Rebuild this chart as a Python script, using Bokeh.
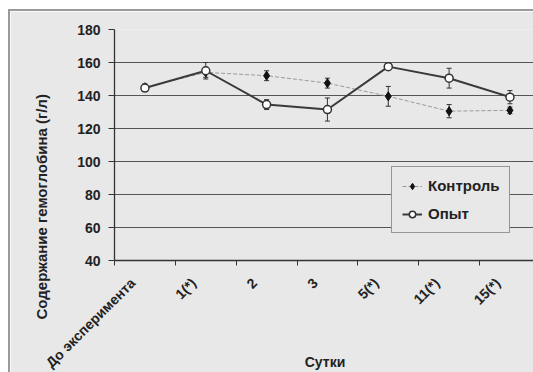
import math
from bokeh.plotting import figure
from bokeh.models import FixedTicker, Whisker, ColumnDataSource, Legend, LegendItem, TeeHead, Title
from bokeh.embed import file_html
from bokeh.resources import INLINE

categories = ["До эксперимента", "1(*)", "2", "3", "5(*)", "11(*)", "15(*)"]
control = [145, 154, 152, 147.5, 139.5, 130.5, 131]
control_err = [2, 3, 3, 3, 6, 4, 2]
experiment = [144.5, 155, 134.5, 131.5, 157.5, 150.5, 139]
experiment_err = [2, 5, 3, 7, 1, 6, 4]

xs = list(range(len(categories)))
FONT = "Liberation Sans"
BG = "#e8e8e8"
DARK = "#333333"
LABEL_SHIFT = 0.2  # rotated labels end slightly left of category centre

p = figure(width=525, height=363, x_range=(-0.5, 6.42), y_range=(40, 180),
           output_backend="svg", toolbar_location=None,
           min_border_left=101, min_border_right=0, min_border_top=18, min_border_bottom=114)
p.background_fill_color = BG
p.border_fill_color = BG
p.outline_line_color = None
p.styles = {"margin-left": "8px", "margin-top": "9px",
            "border-left": "2px solid #9a9a9a", "border-top": "2px solid #9a9a9a"}

label_ticks = [i - LABEL_SHIFT for i in xs]
p.xaxis.ticker = FixedTicker(ticks=label_ticks, minor_ticks=[i - 0.5 for i in range(len(categories) + 1)])
p.xaxis.major_label_overrides = {t: c for t, c in zip(label_ticks, categories)}
p.xaxis.major_label_orientation = math.pi / 4
p.xaxis.major_tick_out = 0
p.xaxis.major_tick_in = 0
p.xaxis.minor_tick_out = 5
p.xaxis.minor_tick_in = 0
p.xaxis.minor_tick_line_color = DARK
p.xaxis.axis_label = "Сутки"

p.yaxis.ticker = FixedTicker(ticks=list(range(40, 181, 20)))
p.yaxis.major_tick_out = 6
p.yaxis.major_tick_in = 0
p.yaxis.minor_tick_line_color = None

for ax in (p.xaxis, p.yaxis):
    ax.axis_line_color = DARK
    ax.axis_line_width = 1.3
    ax.major_tick_line_color = DARK
    ax.major_label_text_font = FONT
    ax.major_label_text_font_style = "bold"
    ax.major_label_text_font_size = "14px"
    ax.major_label_text_color = "#222222"
    ax.axis_label_text_font = FONT
    ax.axis_label_text_font_style = "bold"
    ax.axis_label_text_font_size = "14px"
    ax.axis_label_text_color = "#222222"

p.yaxis.major_label_standoff = 8
p.xaxis.major_label_standoff = 15
p.xaxis.axis_label_standoff = -25

# y-axis title, offset below the frame centre as in the original
ytitle = Title(text="Содержание гемоглобина (г/л)", align="left", vertical_align="top",
               offset=-59, standoff=45,
               text_font=FONT, text_font_style="bold", text_font_size="15px", text_color="#222222")
p.add_layout(ytitle, "left")

p.xgrid.grid_line_color = None
p.ygrid.grid_line_color = "#555555"
p.ygrid.grid_line_width = 1

src_c = ColumnDataSource(dict(x=xs, y=control,
                              lo=[v - e for v, e in zip(control, control_err)],
                              hi=[v + e for v, e in zip(control, control_err)]))
src_e = ColumnDataSource(dict(x=xs, y=experiment,
                              lo=[v - e for v, e in zip(experiment, experiment_err)],
                              hi=[v + e for v, e in zip(experiment, experiment_err)]))

for src in (src_c, src_e):
    w = Whisker(source=src, base="x", lower="lo", upper="hi", line_color=DARK, line_width=1,
                lower_head=TeeHead(size=5, line_color=DARK), upper_head=TeeHead(size=5, line_color=DARK))
    p.add_layout(w)

lc = p.line("x", "y", source=src_c, line_color="#9a9a9a", line_width=1, line_dash="4 2")
mc = p.scatter("x", "y", source=src_c, marker="diamond", size=9, fill_color="#111111", line_color="#111111")
le = p.line("x", "y", source=src_e, line_color="#3a3a3a", line_width=2)
me = p.scatter("x", "y", source=src_e, marker="circle", size=8, fill_color="white", line_color="#333333", line_width=1.5)

legend = Legend(items=[LegendItem(label="Контроль", renderers=[lc, mc]),
                       LegendItem(label="Опыт", renderers=[le, me])],
                location=(277, 27), orientation="vertical")
legend.label_text_font = FONT
legend.label_text_font_style = "bold"
legend.label_text_font_size = "15px"
legend.label_text_color = "#222222"
legend.background_fill_color = BG
legend.background_fill_alpha = 1
legend.border_line_color = "#444444"
legend.border_line_width = 1
legend.padding = 10
legend.spacing = 11
legend.glyph_width = 20
legend.glyph_height = 16
legend.label_height = 16
legend.label_standoff = 6
legend.margin = 0
p.add_layout(legend)

open("out.html", "w").write(file_html(p, INLINE))
